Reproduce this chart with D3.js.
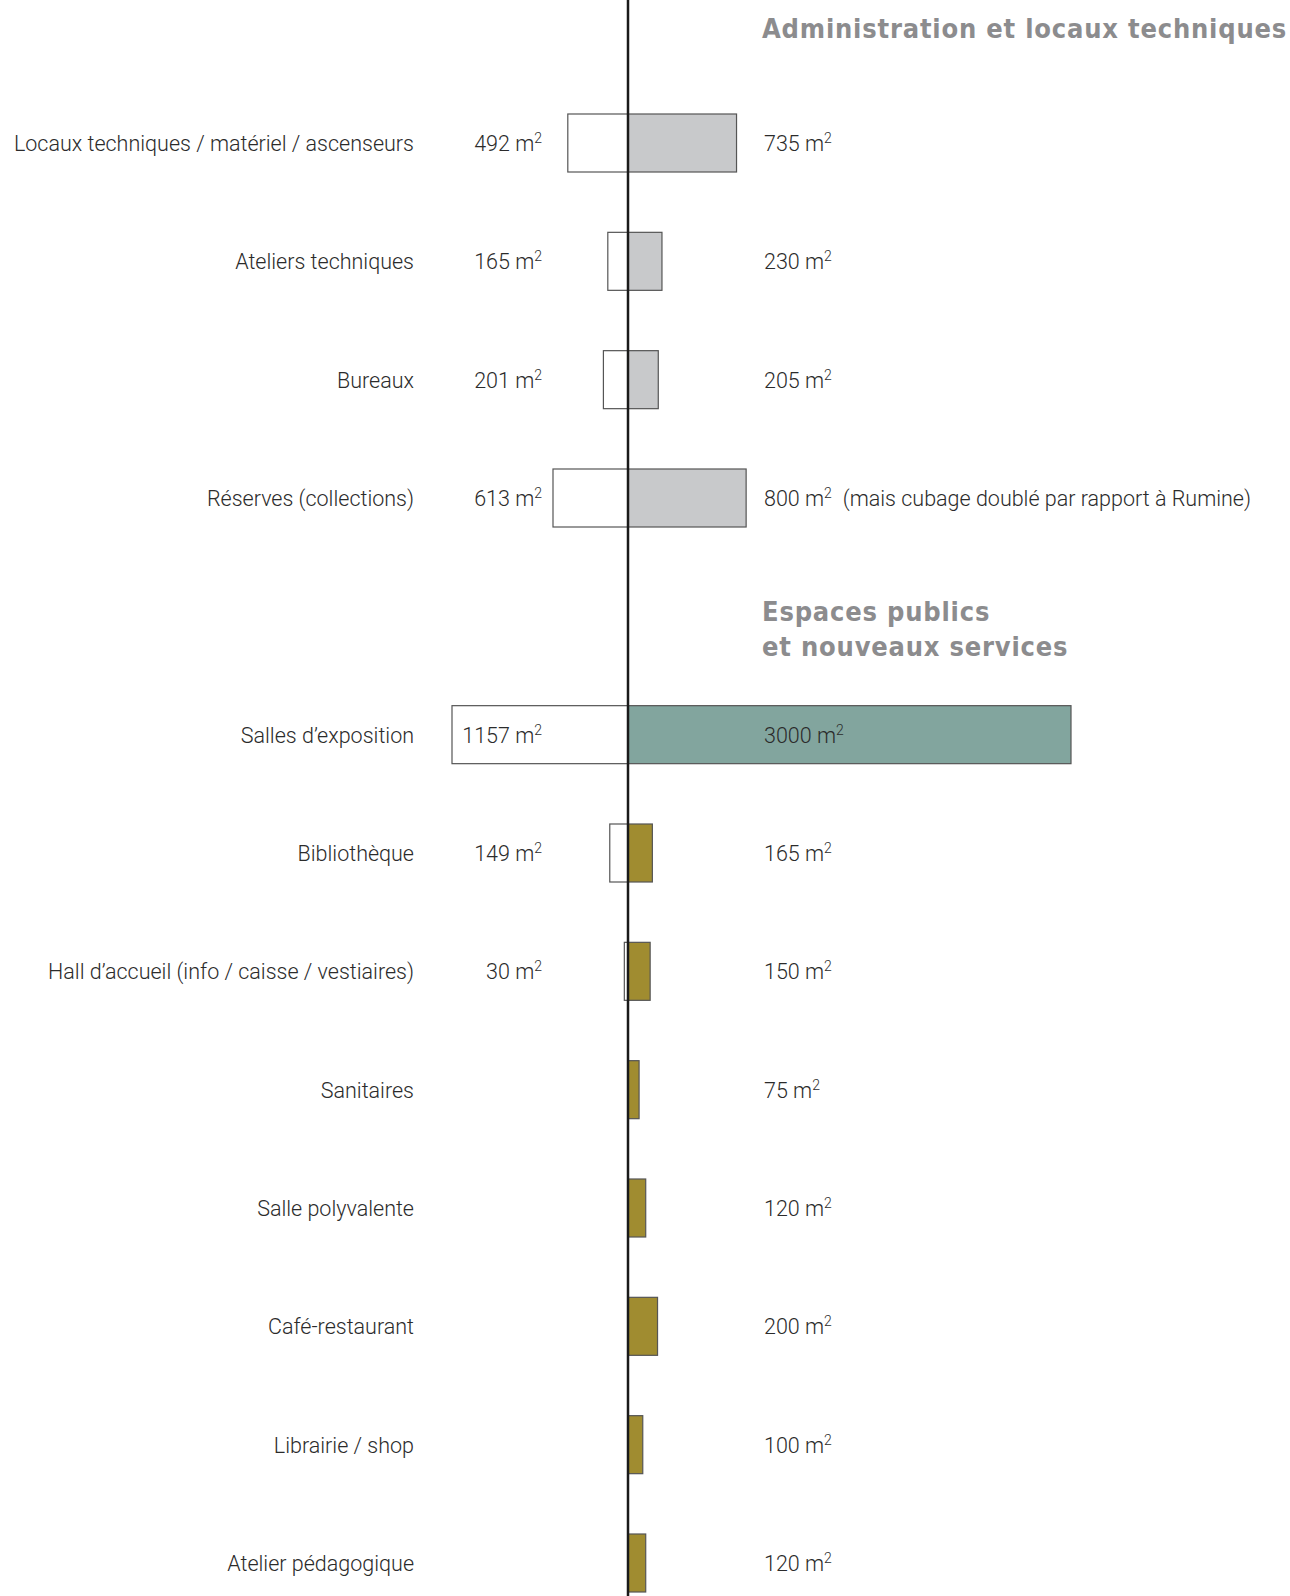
<!DOCTYPE html>
<html>
<head>
<meta charset="utf-8">
<script src="https://cdn.jsdelivr.net/npm/d3@7"></script>
<style>
  html, body { margin: 0; padding: 0; background: #fff; }
  svg { display: block; }
</style>
</head>
<body>
<svg id="chart" width="1290" height="1596"></svg>
<script>
// surfaces: Rumine (left, outlined) vs new museum (right, filled)
const categories = [
  'Locaux techniques / matériel / ascenseurs',
  'Ateliers techniques',
  'Bureaux',
  'Réserves (collections)',
  'Salles d\u2019exposition',
  'Bibliothèque',
  'Hall d\u2019accueil (info / caisse / vestiaires)',
  'Sanitaires',
  'Salle polyvalente',
  'Café-restaurant',
  'Librairie / shop',
  'Atelier pédagogique'
];
const rowSlots   = [0, 1, 2, 3, 5, 6, 7, 8, 9, 10, 11, 12];
const oldValues  = [492, 165, 201, 613, 1157, 149, 30, null, null, null, null, null];
const newValues  = [735, 230, 205, 800, 3000, 165, 150, 75, 120, 200, 100, 120];
const groups     = ['admin', 'admin', 'admin', 'admin', 'expo', 'public', 'public', 'public', 'public', 'public', 'public', 'public'];
const notes      = ['', '', '', '(mais cubage doublé par rapport à Rumine)', '', '', '', '', '', '', '', ''];
const sectionTitles = [
  { baseline: 38,  lines: ['Administration et locaux techniques'] },
  { baseline: 621, lines: ['Espaces publics', 'et nouveaux services'] }
];

const rows = categories.map((c, i) => ({
  label: c, slot: rowSlots[i], old: oldValues[i], neu: newValues[i], group: groups[i], note: notes[i]
}));

const fill = { admin: '#c8c9cb', expo: '#82a59e', public: '#a08c30' };

const svg = d3.select('#chart');
const axisX = 628;
const barH = 58;

// the source drawing is not strictly proportional on the left side
const xNew = d3.scaleLinear().domain([0, 3000]).range([0, 443]);
const xOld = d3.scaleLinear().domain([0, 613, 1157]).range([0, 75, 176]);
const y = d3.scaleLinear().domain([0, 12]).range([143, 1563]);

const bodyFont = 'Roboto, "Helvetica Neue", Arial, sans-serif';

// bars
const g = svg.append('g');

g.selectAll('rect.old')
  .data(rows.filter(d => d.old != null))
  .join('rect')
  .attr('class', 'old')
  .attr('x', d => axisX - xOld(d.old))
  .attr('y', d => y(d.slot) - barH / 2)
  .attr('width', d => xOld(d.old))
  .attr('height', barH)
  .attr('fill', '#fff')
  .attr('stroke', '#555')
  .attr('stroke-width', 1.2);

g.selectAll('rect.new')
  .data(rows)
  .join('rect')
  .attr('class', 'new')
  .attr('x', axisX)
  .attr('y', d => y(d.slot) - barH / 2)
  .attr('width', d => xNew(d.neu))
  .attr('height', barH)
  .attr('fill', d => fill[d.group])
  .attr('stroke', '#555')
  .attr('stroke-width', 1.2);

// central axis
svg.append('line')
  .attr('x1', axisX).attr('x2', axisX)
  .attr('y1', 0).attr('y2', 1596)
  .attr('stroke', '#1a1a1a')
  .attr('stroke-width', 2.5);

// "NNN m²" with a raised 2
function areaText(sel, val, extra) {
  sel.append('tspan').text(`${val} m`);
  sel.append('tspan').text('2')
    .attr('font-size', 14)
    .attr('dy', -8);
  if (extra) {
    sel.append('tspan').text('\u2002' + extra).attr('dy', 8);
  }
}

const labels = svg.append('g')
  .attr('font-family', bodyFont)
  .attr('font-weight', 300)
  .attr('font-size', 21.5)
  .attr('fill', '#2b2b2b');

labels.selectAll('text.cat')
  .data(rows)
  .join('text')
  .attr('class', 'cat')
  .attr('x', 414)
  .attr('y', d => y(d.slot) + 8)
  .attr('text-anchor', 'end')
  .text(d => d.label);

labels.selectAll('text.oldv')
  .data(rows.filter(d => d.old != null))
  .join('text')
  .attr('class', 'oldv')
  .attr('x', 542)
  .attr('y', d => y(d.slot) + 8)
  .attr('text-anchor', 'end')
  .each(function (d) { areaText(d3.select(this), d.old); });

labels.selectAll('text.newv')
  .data(rows)
  .join('text')
  .attr('class', 'newv')
  .attr('x', 764)
  .attr('y', d => y(d.slot) + 8)
  .each(function (d) { areaText(d3.select(this), d.neu, d.note); });

// section titles
const titles = svg.append('g')
  .attr('font-family', '"DejaVu Sans Condensed", "DejaVu Sans", sans-serif')
  .attr('font-stretch', 'condensed')
  .attr('font-weight', 'bold')
  .attr('font-size', 27)
  .attr('letter-spacing', 0.8)
  .attr('fill', '#8c8c8e');

sectionTitles.forEach(t => {
  const txt = titles.append('text')
    .attr('x', 762)
    .attr('y', t.baseline);
  t.lines.forEach((line, i) => {
    txt.append('tspan').attr('x', 762).attr('dy', i === 0 ? 0 : 34.5).text(line);
  });
});
</script>
</body>
</html>
